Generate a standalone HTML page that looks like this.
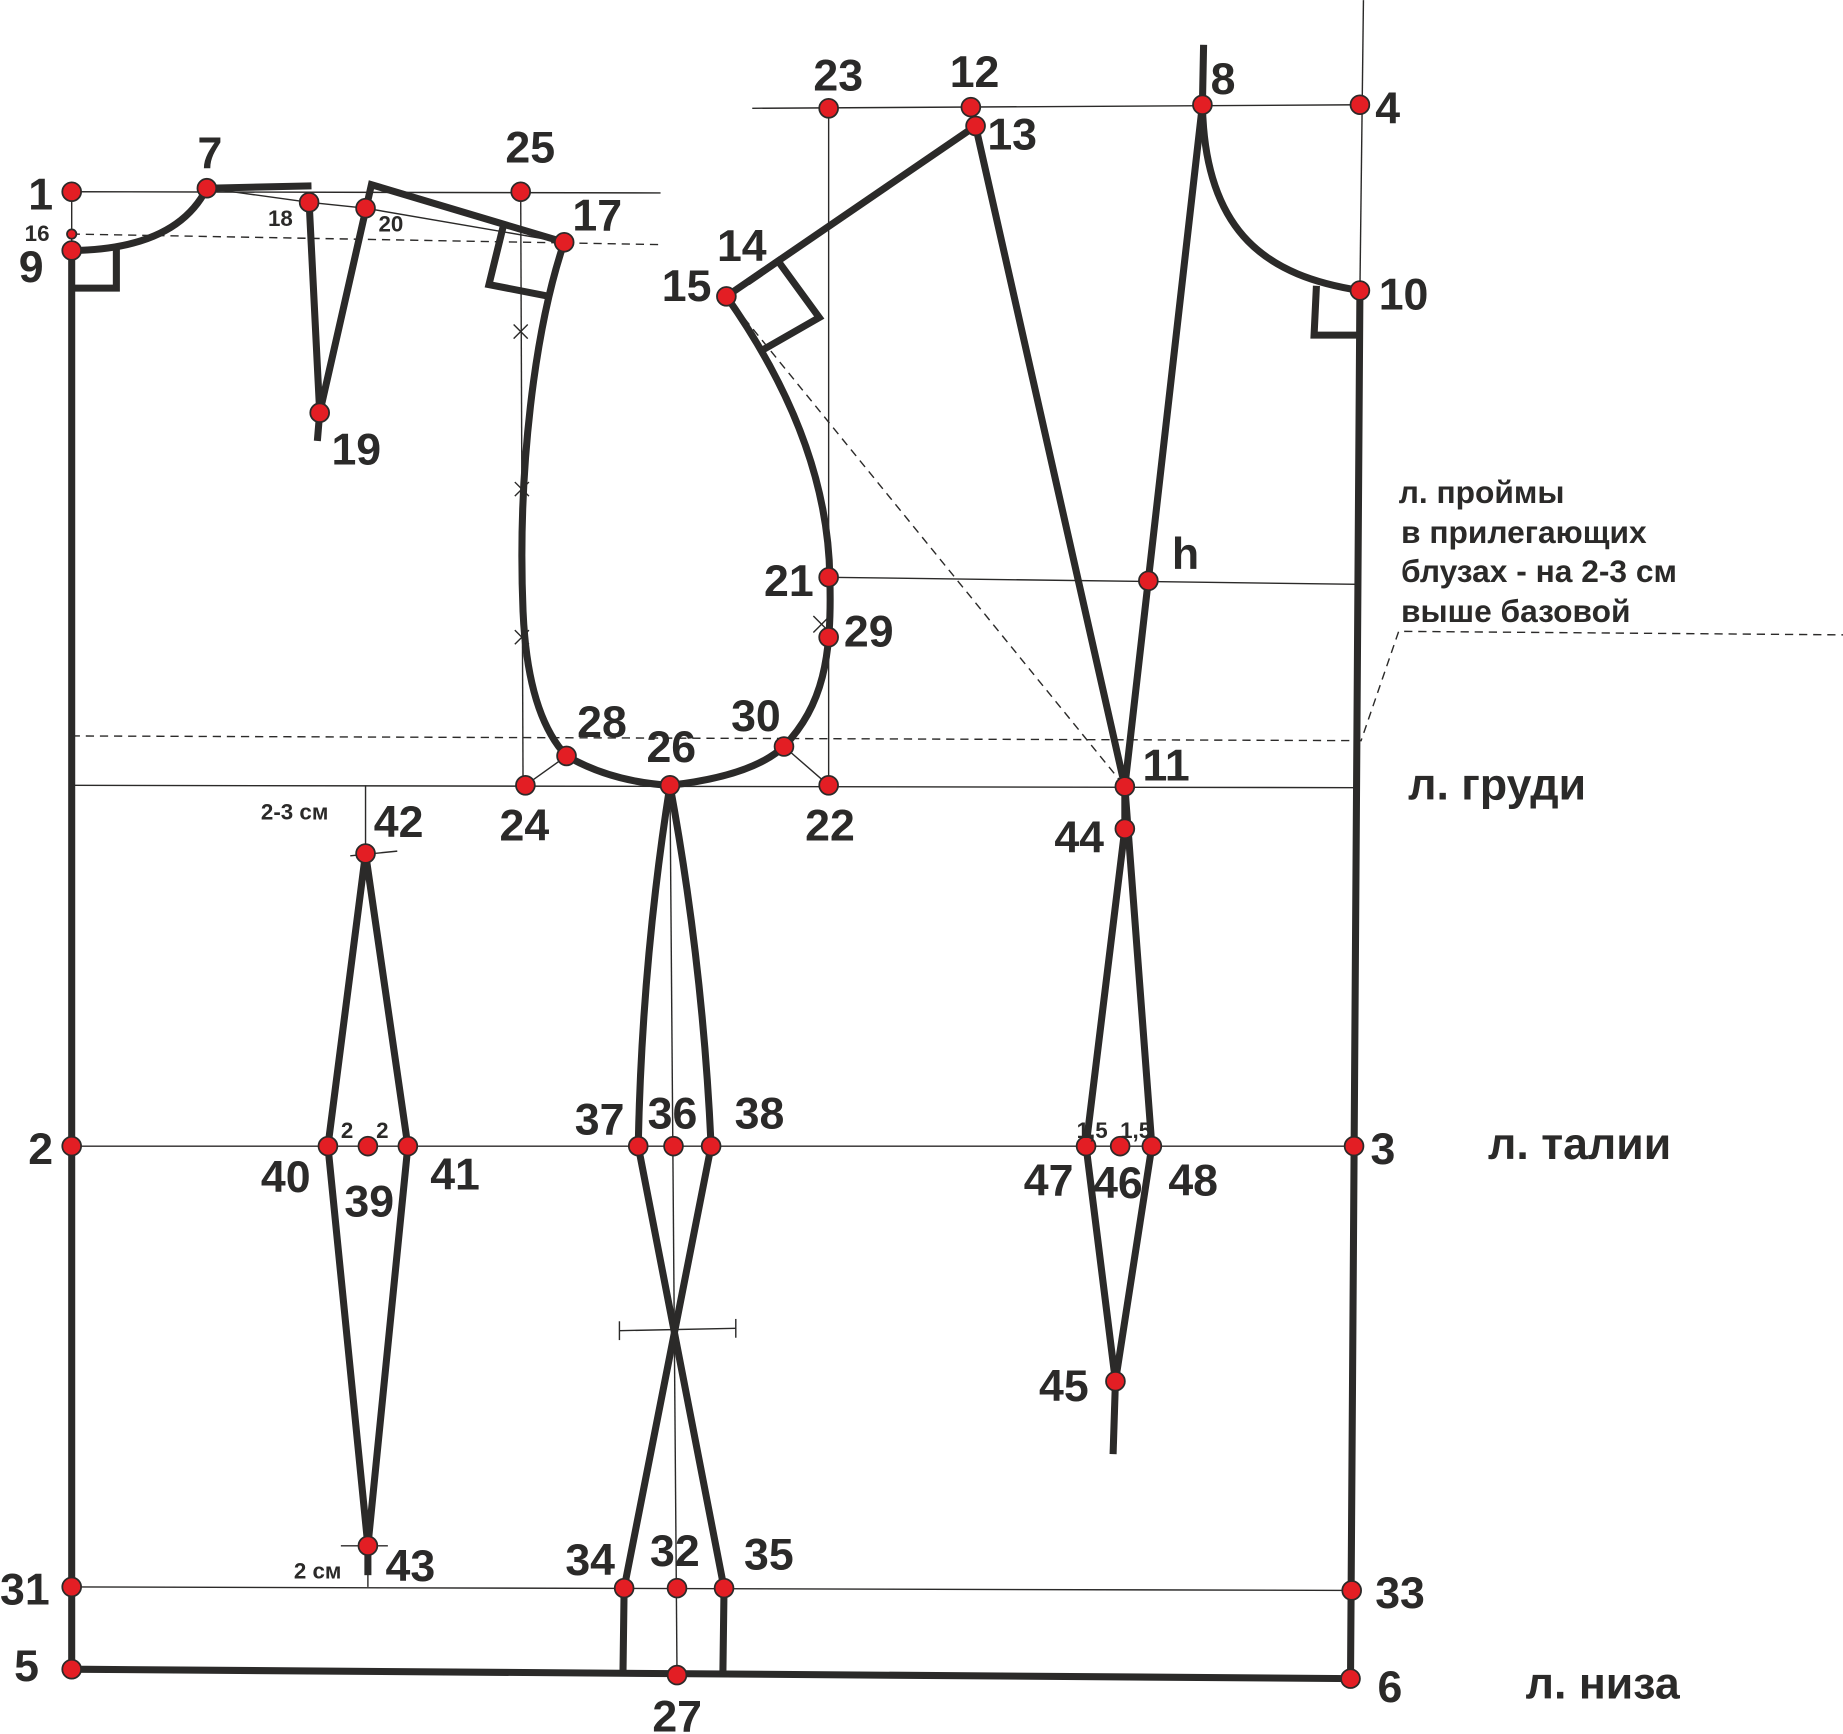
<!DOCTYPE html>
<html><head><meta charset="utf-8"><style>html,body{margin:0;padding:0;background:#fff}svg{display:block}</style></head><body>
<svg width="1843" height="1734" viewBox="0 0 1568 1475" xmlns="http://www.w3.org/2000/svg" font-family="Liberation Sans, Arial, sans-serif" font-weight="bold" fill="#2b2a29">
<rect width="1568" height="1475" fill="#fff"/>
<g stroke="#2b2a29" stroke-width="1.2" fill="none">
<line x1="61" y1="163" x2="562" y2="164"/>
<line x1="61" y1="163" x2="61" y2="213"/>
<path d="M176,160 L263,172 L311,177 L480,206"/>
<line x1="443" y1="163" x2="445" y2="668"/>
<line x1="640" y1="92" x2="1160" y2="89"/>
<line x1="705" y1="92" x2="705" y2="668"/>
<line x1="1160" y1="0" x2="1157" y2="247"/>
<line x1="705" y1="491" x2="1155" y2="497"/>
<line x1="61" y1="668" x2="1155" y2="670"/>
<line x1="61" y1="975" x2="1152" y2="975"/>
<line x1="61" y1="1350" x2="1150" y2="1353"/>
<line x1="570" y1="668" x2="576" y2="1425"/>
<line x1="311" y1="668" x2="311" y2="726"/>
<line x1="313" y1="1315" x2="313" y2="1350"/>
<line x1="298" y1="728" x2="338" y2="724"/>
<line x1="290" y1="1315" x2="330" y2="1315"/>
<line x1="527" y1="1132" x2="626" y2="1130"/>
<line x1="527" y1="1124" x2="527" y2="1140"/>
<line x1="626" y1="1122" x2="626" y2="1138"/>
<line x1="482" y1="643" x2="447" y2="668"/>
<line x1="667" y1="635" x2="705" y2="668"/>
<path d="M437,276 l12,12 M449,276 l-12,12 M438,410 l12,12 M450,410 l-12,12 M438,536 l12,12 M450,536 l-12,12 M692,524 l14,14 M706,524 l-14,14"/>
</g>
<g stroke="#2b2a29" stroke-width="1.2" fill="none" stroke-dasharray="7,5">
<line x1="61" y1="199" x2="562" y2="208"/>
<line x1="618" y1="252" x2="957" y2="669"/>
<path d="M61,626 L1158,630 L1190,537 L1568,540"/>
</g>
<g stroke="#2b2a29" stroke-width="6" fill="none" stroke-linejoin="miter">
<path d="M61,213 Q150,212 176,160"/>
<path d="M61,245 L99,245 L99,212"/>
<path d="M176,160 L265,158 M263,172 L272,351 L316,157 L480,206"/>
<path d="M272,351 L270,375"/>
<path d="M428,193 L416,242 L467,252"/>
<path d="M480,206 C455,280 440,400 445,520 C448,590 465,625 482,643 Q520,665 570,668 Q640,660 667,635 C700,600 708,560 706,491 C705,420 680,340 618,252"/>
<path d="M618,252 L830,107"/>
<path d="M636,240 L662,222 L697,270 L650,297"/>
<path d="M830,107 L957,669 L1023,89 L1024,38"/>
<path d="M1023,89 C1025,200 1080,235 1157,247"/>
<path d="M1120,243 L1118,285 L1155,285"/>
<path d="M61,213 L61,1420 L1149,1428 L1157,247"/>
<path d="M311,726 L279,975 L313,1315 L347,975 Z"/>
<path d="M313,1315 L313,1340"/>
<path d="M570,668 Q546,820 543,975 L616,1351 L615,1425"/>
<path d="M570,668 Q598,820 605,975 L531,1351 L530,1425"/>
<path d="M957,669 L957,705 L924,975 L949,1175 L980,975 Z"/>
<path d="M949,1175 L947,1237"/>
</g>
<g fill="#e31e24" stroke="#2b2a29" stroke-width="1.5">
<circle cx="61" cy="163" r="8"/><circle cx="61" cy="199" r="4"/><circle cx="61" cy="213" r="8"/><circle cx="176" cy="160" r="8"/><circle cx="263" cy="172" r="8"/><circle cx="311" cy="177" r="8"/><circle cx="443" cy="163" r="8"/><circle cx="480" cy="206" r="8"/><circle cx="272" cy="351" r="8"/><circle cx="618" cy="252" r="8"/><circle cx="705" cy="92" r="8"/><circle cx="826" cy="91" r="8"/><circle cx="830" cy="107" r="8"/><circle cx="1023" cy="89" r="8"/><circle cx="1157" cy="89" r="8"/><circle cx="1157" cy="247" r="8"/><circle cx="705" cy="491" r="8"/><circle cx="977" cy="494" r="8"/><circle cx="705" cy="542" r="8"/><circle cx="482" cy="643" r="8"/><circle cx="667" cy="635" r="8"/><circle cx="447" cy="668" r="8"/><circle cx="570" cy="668" r="8"/><circle cx="705" cy="668" r="8"/><circle cx="957" cy="669" r="8"/><circle cx="957" cy="705" r="8"/><circle cx="311" cy="726" r="8"/><circle cx="61" cy="975" r="8"/><circle cx="279" cy="975" r="8"/><circle cx="313" cy="975" r="8"/><circle cx="347" cy="975" r="8"/><circle cx="543" cy="975" r="8"/><circle cx="573" cy="975" r="8"/><circle cx="605" cy="975" r="8"/><circle cx="924" cy="975" r="8"/><circle cx="953" cy="975" r="8"/><circle cx="980" cy="975" r="8"/><circle cx="1152" cy="975" r="8"/><circle cx="949" cy="1175" r="8"/><circle cx="313" cy="1315" r="8"/><circle cx="61" cy="1350" r="8"/><circle cx="531" cy="1351" r="8"/><circle cx="576" cy="1351" r="8"/><circle cx="616" cy="1351" r="8"/><circle cx="1150" cy="1353" r="8"/><circle cx="61" cy="1420" r="8"/><circle cx="576" cy="1425" r="8"/><circle cx="1149" cy="1428" r="8"/>
</g>
<g font-size="38">
<text x="24" y="178">1</text><text x="16" y="240">9</text><text x="168" y="143">7</text><text x="430" y="138">25</text><text x="487" y="196">17</text><text x="282" y="395">19</text><text x="610" y="222">14</text><text x="563" y="256">15</text><text x="692" y="77">23</text><text x="808" y="74">12</text><text x="840" y="127">13</text><text x="1030" y="80">8</text><text x="1170" y="105">4</text><text x="1173" y="263">10</text><text x="997" y="484">h</text><text x="650" y="507">21</text><text x="718" y="550">29</text><text x="491" y="627">28</text><text x="622" y="622">30</text><text x="550" y="648">26</text><text x="425" y="715">24</text><text x="685" y="715">22</text><text x="972" y="664">11</text><text x="897" y="725">44</text><text x="318" y="712">42</text><text x="24" y="990">2</text><text x="222" y="1014">40</text><text x="293" y="1035">39</text><text x="366" y="1012">41</text><text x="489" y="965">37</text><text x="551" y="960">36</text><text x="625" y="960">38</text><text x="871" y="1017">47</text><text x="930" y="1019">46</text><text x="994" y="1017">48</text><text x="1166" y="990">3</text><text x="884" y="1192">45</text><text x="328" y="1345">43</text><text x="0" y="1365">31</text><text x="481" y="1340">34</text><text x="553" y="1332">32</text><text x="633" y="1335">35</text><text x="1170" y="1368">33</text><text x="12" y="1430">5</text><text x="555" y="1473">27</text><text x="1172" y="1448">6</text>
<text x="1198" y="680">л. груди</text><text x="1266" y="986">л. талии</text><text x="1298" y="1445">л. низа</text>
</g>
<g font-size="19">
<text x="21" y="205">16</text><text x="228" y="192">18</text><text x="322" y="197">20</text><text x="222" y="697">2-3 см</text><text x="290" y="968">2</text><text x="320" y="968">2</text><text x="916" y="968">1,5</text><text x="953" y="968">1,5</text><text x="250" y="1343">2 см</text>
</g>
<g font-size="27">
<text x="1190" y="428">л. проймы</text><text x="1192" y="462">в прилегающих</text><text x="1192" y="495">блузах - на 2-3 см</text><text x="1192" y="529">выше базовой</text>
</g>
</svg>
</body></html>
